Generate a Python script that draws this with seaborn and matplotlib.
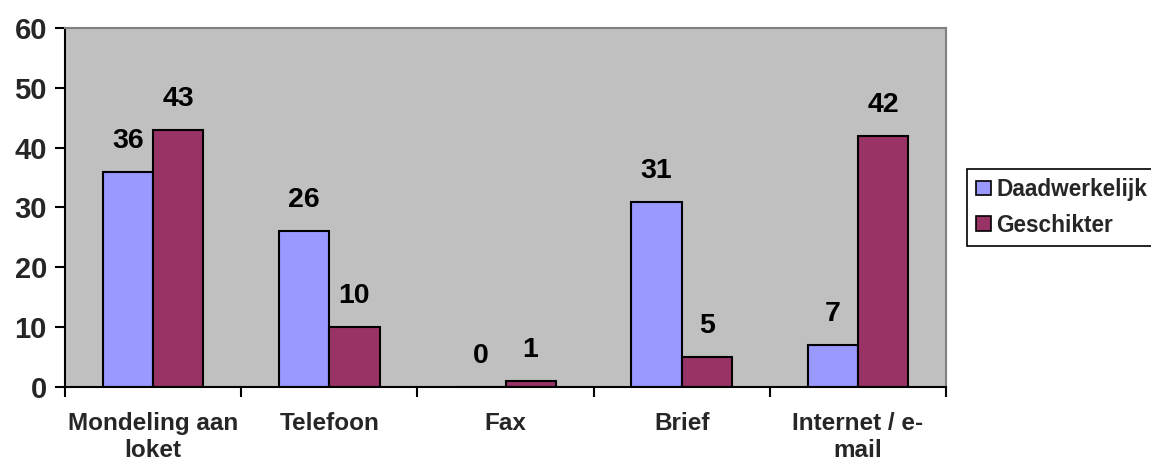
import matplotlib
matplotlib.use("Agg")
import matplotlib.pyplot as plt
import seaborn as sns
import pandas as pd

categories = ["Mondeling aan\nloket", "Telefoon", "Fax", "Brief", "Internet / e-\nmail"]
series_names = ["Daadwerkelijk", "Geschikter"]
daadwerkelijk = [36, 26, 0, 31, 7]
geschikter = [43, 10, 1, 5, 42]
y_ticks = [0, 10, 20, 30, 40, 50, 60]

colors = ["#9999FF", "#993366"]

sns.set_theme(style="white")
plt.rcParams["font.family"] = ["Liberation Sans", "DejaVu Sans"]
plt.rcParams["font.weight"] = "bold"

df = pd.DataFrame({
    "categorie": categories * 2,
    "reeks": [series_names[0]] * len(categories) + [series_names[1]] * len(categories),
    "waarde": daadwerkelijk + geschikter,
})

W, H = 1151, 461
fig = plt.figure(figsize=(W / 100, H / 100), dpi=100)
ax = fig.add_axes([65 / W, (H - 387) / H, 881 / W, (387 - 28) / H])
ax.set_facecolor("#C0C0C0")

sns.barplot(data=df, x="categorie", y="waarde", hue="reeks", order=categories,
            hue_order=series_names, palette=colors, width=0.57, saturation=1,
            edgecolor="black", linewidth=1.5, ax=ax, legend=True)

ax.set_xlim(-0.5, len(categories) - 0.5)
ax.set_ylim(0, 60)
ax.set_yticks(y_ticks)
ax.set_yticklabels([str(t) for t in y_ticks], fontsize=21, fontweight="bold")
ax.tick_params(axis="y", direction="out", length=7, width=1.5, color="black", pad=6, left=True)

# category boundaries carry the tick marks; the labels sit at the centres
ax.set_xticks([i - 0.5 for i in range(len(categories) + 1)])
ax.set_xticklabels([])
ax.set_xticks(range(len(categories)), minor=True)
ax.set_xticklabels(categories, minor=True, fontsize=17.5, fontweight="bold", linespacing=1.2)
ax.tick_params(axis="x", which="major", direction="out", length=7, width=1.5, color="black", bottom=True)
ax.tick_params(axis="x", which="minor", length=0, pad=18)
ax.set_xlabel("")
ax.set_ylabel("")

for side in ["top", "right"]:
    ax.spines[side].set_color("#808080")
    ax.spines[side].set_linewidth(1.5)
for side in ["left", "bottom"]:
    ax.spines[side].set_color("black")
    ax.spines[side].set_linewidth(1.5)
    ax.spines[side].set_visible(True)

# value labels above each bar
for container in ax.containers:
    for bar in container:
        h = bar.get_height()
        ax.annotate(f"{h:.0f}", (bar.get_x() + bar.get_width() / 2, h),
                    xytext=(0, 18), textcoords="offset pixels",
                    ha="center", va="bottom", fontsize=20.5, fontweight="bold",
                    color="black")

leg = ax.get_legend()
handles = leg.legend_handles
leg.remove()
legend = fig.legend(handles, series_names, loc="upper left",
                    bbox_to_anchor=(967 / W, 1 - 169 / H), bbox_transform=fig.transFigure,
                    frameon=True, fancybox=False, framealpha=1, edgecolor="black",
                    prop={"size": 16.3, "weight": "bold"}, handlelength=0.65,
                    handleheight=0.6, handletextpad=0.25, labelspacing=0.55,
                    borderpad=0.4, borderaxespad=0)
legend.get_frame().set_linewidth(1.2)
for h in legend.legend_handles:
    h.set_edgecolor("black")
    h.set_linewidth(1.2)

fig.savefig("out.png", dpi=100, facecolor="white")
